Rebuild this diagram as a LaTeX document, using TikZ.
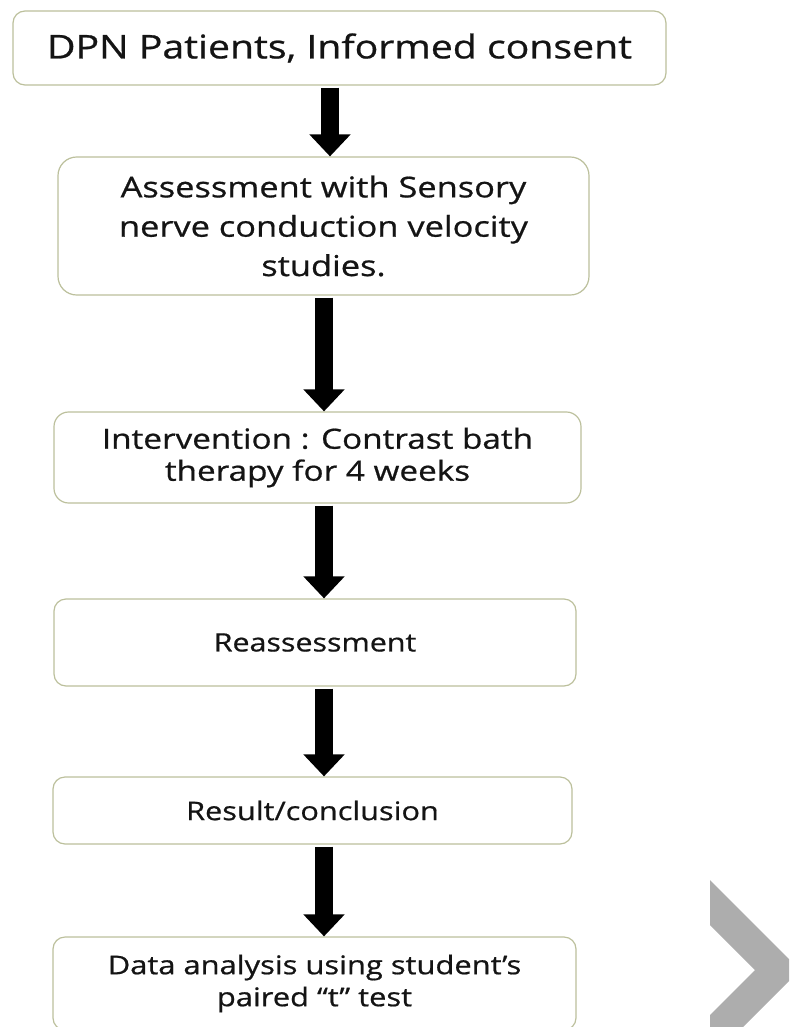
\documentclass[tikz,border=0pt]{standalone}
\usepackage{fontspec}
\setmainfont{Open Sans}[FakeStretch=1.2,FakeBold=0.7]
\usetikzlibrary{arrows.meta}
\definecolor{boxline}{RGB}{188,192,156}
\definecolor{chevgray}{RGB}{173,173,173}
\definecolor{inktext}{RGB}{20,20,20}

\begin{document}
\begin{tikzpicture}[x=0.75pt,y=0.75pt,yscale=-1,xscale=1,
		flowbox/.style={draw=boxline, line width=0.9pt, rounded corners=9pt, fill=white, align=center, inner sep=0pt, text=inktext},
		flowarrow/.style={line width=14pt, shorten <=1.5pt, -{Triangle[width=30pt,length=16.5pt]}}]
		\useasboundingbox (0,0) rectangle (789,1027);
		\clip (0,0) rectangle (789,1027);

		%Shape: Chevron
		\fill [chevgray] (710,880) -- (800,970) -- (710,1060) -- (710,1015) -- (755,970) -- (710,925) -- cycle;

		% Text Node
		\node [flowbox, minimum width=489.75pt, minimum height=55.5pt, font=\fontsize{24.5}{30}\selectfont] (dpn) at (339.5,48) {DPN Patients, Informed consent};
		% Text Node
		\node [flowbox, minimum width=398.25pt, minimum height=103.5pt, rounded corners=14pt, font=\fontsize{21.5}{29.5}\selectfont] (assess) at (323.5,226) {Assessment with Sensory\\nerve conduction velocity\\studies.};
		% Text Node
		\node [flowbox, minimum width=395.25pt, minimum height=68.25pt, rounded corners=11pt, font=\fontsize{20.8}{24}\selectfont] (interv) at (317.5,457.5) {Intervention : Contrast bath\\therapy for 4 weeks};
		% Text Node
		\node [flowbox, minimum width=391.5pt, minimum height=65.25pt, font=\fontsize{19}{24}\selectfont] (reass) at (315,642.5) {Reassessment};
		% Text Node
		\node [flowbox, minimum width=389.25pt, minimum height=50.25pt, font=\fontsize{19.2}{24}\selectfont] (result) at (312.5,810.5) {Result/conclusion};
		% Text Node
		\node [flowbox, minimum width=392.25pt, minimum height=69.75pt, font=\fontsize{19.3}{24}\selectfont] (analysis) at (314.5,983.5) {Data analysis using student’s\\paired “t” test};

		%Straight Lines
		\coordinate (spine) at (324,0);
		\draw [flowarrow] ([xshift=4.5pt]dpn.south -| spine) -- ([xshift=4.5pt]assess.north -| spine);
		\draw [flowarrow] (assess.south -| spine) -- (interv.north -| spine);
		\draw [flowarrow] (interv.south -| spine) -- (reass.north -| spine);
		\draw [flowarrow] (reass.south -| spine) -- (result.north -| spine);
		\draw [flowarrow] (result.south -| spine) -- (analysis.north -| spine);

\end{tikzpicture}
\end{document}
